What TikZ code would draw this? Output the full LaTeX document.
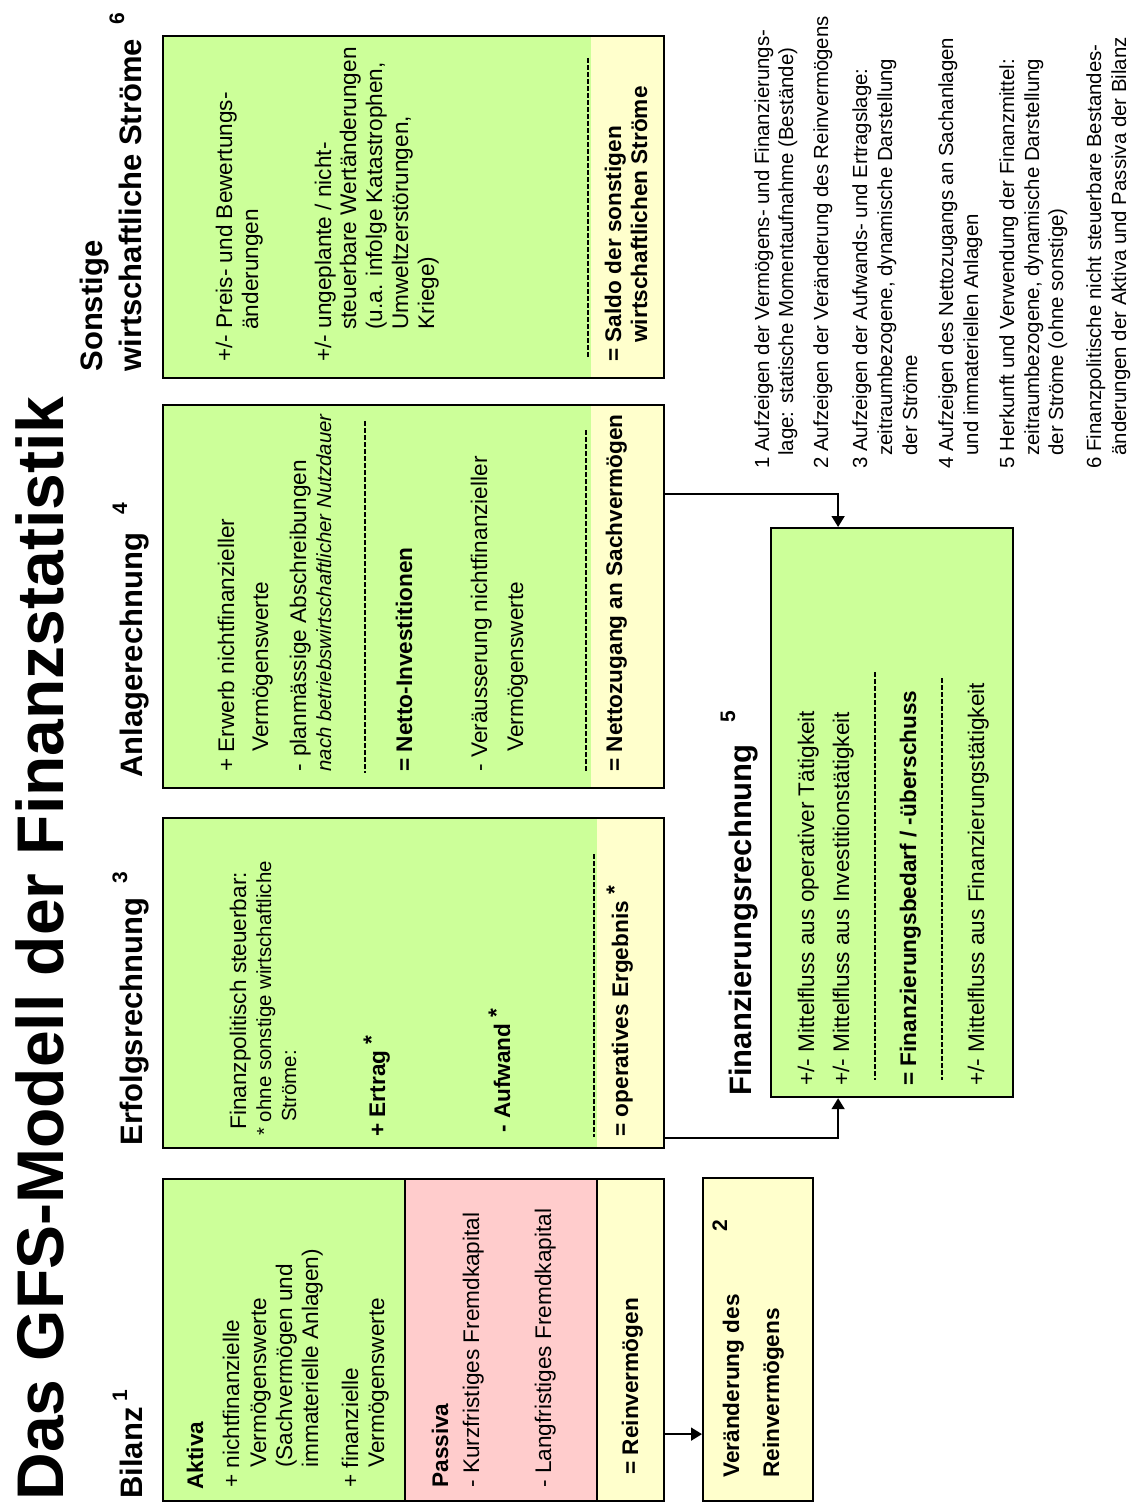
\documentclass[tikz,border=0pt]{standalone}
\usepackage{fontspec}
\setmainfont{Liberation Sans}
\usetikzlibrary{arrows.meta}
\definecolor{gfsgreen}{HTML}{CCFF99}
\definecolor{gfspink}{HTML}{FFCCCC}
\definecolor{gfsyellow}{HTML}{FFFFCC}
\begin{document}
\begin{tikzpicture}[x=0.5pt,y=-0.5pt,
  txt/.style={rotate=90, anchor=base west, inner sep=0pt, font=\fontsize{11.3}{13}\selectfont},
  txtb/.style={txt, font=\fontsize{11.3}{13}\selectfont\bfseries},
  txti/.style={txt, font=\fontsize{10.2}{12}\selectfont\itshape},
  smalltxt/.style={txt, font=\fontsize{10.2}{12}\selectfont},
  fn/.style={txt, font=\fontsize{10.2}{12}\selectfont},
  head/.style={txt, font=\fontsize{15.5}{18}\selectfont\bfseries},
  supnum/.style={txt, font=\fontsize{10.5}{12}\selectfont\bfseries},
  titlefont/.style={txt, font=\fontsize{33}{36}\selectfont\bfseries},
  frame/.style={draw=black, line width=1.1pt, rectangle, inner sep=0pt, anchor=north west},
  sepline/.style={line width=0.9pt, dash pattern=on 2.5pt off 1pt},
  conn/.style={line width=0.9pt, -{Triangle[length=5.5pt,width=6.5pt]}}
]
\useasboundingbox (0,0) rectangle (1141,1502);

% ---------- fills ----------
\fill[gfsgreen]  (162,1178) rectangle (405,1500);
\fill[gfspink]   (405,1178) rectangle (597,1500);
\fill[gfsyellow] (597,1178) rectangle (663,1500);
\fill[gfsyellow] (702,1177) rectangle (812,1500);
\fill[gfsgreen]  (162,817) rectangle (597,1147);
\fill[gfsyellow] (597,817) rectangle (663,1147);
\fill[gfsgreen]  (162,404) rectangle (591,787);
\fill[gfsyellow] (591,404) rectangle (663,787);
\fill[gfsgreen]  (162,35) rectangle (591,377);
\fill[gfsyellow] (591,35) rectangle (663,377);
\fill[gfsgreen]  (770,527) rectangle (1012,1096);

% ---------- frames ----------
\node[frame, minimum width=250.5pt, minimum height=161pt] (bil) at (162,1178) {};
\draw[line width=1.1pt] (405,1178) -- (405,1500) (597,1178) -- (597,1500);
\node[frame, minimum width=55pt, minimum height=161.5pt] (ver) at (702,1177) {};
\node[frame, minimum width=250.5pt, minimum height=165pt] (erf) at (162,817) {};
\node[frame, minimum width=250.5pt, minimum height=191.5pt] (anl) at (162,404) {};
\node[frame, minimum width=250.5pt, minimum height=171pt] (son) at (162,35) {};
\node[frame, minimum width=121pt, minimum height=284.5pt] (fin) at (770,527) {};

% ---------- separators ----------
\draw[sepline] (594,854) -- (594,1137);
\draw[sepline] (365,421) -- (365,773);
\draw[sepline] (586,430) -- (586,773);
\draw[sepline] (588,58) -- (588,357);
\draw[sepline] (875,672) -- (875,1080);
\draw[sepline] (942,678) -- (942,1080);

% ---------- connectors ----------
\draw[conn] ([yshift=-47pt]bil.east) coordinate (a1) -- (a1 -| ver.west);
\draw[conn] ([yshift=5.5pt]erf.south east) -| ([xshift=-27pt]fin.south);
\draw[conn] ([yshift=-45pt]anl.north east) -| ([xshift=-27pt]fin.north);

% ---------- title and headings ----------
\node[titlefont] (title) at (63,1501) {Das GFS-Modell der Finanzstatistik};
\node[head] (hBil) at (142,1499) {Bilanz};
\node[supnum] (sBil) at (127,1402) {1};
\node[head] (hErf) at (142,1146) {Erfolgsrechnung};
\node[supnum] (sErf) at (127,884) {3};
\node[head] (hAnl) at (142,778) {Anlagerechnung};
\node[supnum] (sAnl) at (127,515) {4};
\node[head] (hSon1) at (102,372) {Sonstige};
\node[head] (hSon2) at (141,372) {wirtschaftliche Ströme};
\node[supnum] (sSon) at (124,25) {6};
\node[head] (hFin) at (751,1096) {Finanzierungsrechnung};
\node[supnum] (sFin) at (735,723) {5};

% ---------- Bilanz ----------
\node[txtb] (b1) at (203,1490) {Aktiva};
\node[txt] (b2) at (239,1488) {+ nichtfinanzielle};
\node[txt] (b3) at (266,1468) {Vermögenswerte};
\node[txt] (b4) at (292,1468) {(Sachvermögen und};
\node[txt] (b5) at (318,1468) {immaterielle Anlagen)};
\node[txt] (b6) at (358,1488) {+ finanzielle};
\node[txt] (b7) at (384,1468) {Vermögenswerte};
\node[txtb] (p1) at (448,1488) {Passiva};
\node[txt] (p2) at (479,1488) {- Kurzfristiges Fremdkapital};
\node[txt] (p3) at (551,1488) {- Langfristiges Fremdkapital};
\node[txtb] (r1) at (638,1475) {= Reinvermögen};

% ---------- Veraenderung ----------
\node[txtb] (v1) at (739,1478) {Veränderung des};
\node[txtb] (v2) at (779,1478) {Reinvermögens};
\node[supnum] (v3) at (727,1232) {2};

% ---------- Erfolgsrechnung ----------
\node[txt] (e1) at (246,1130) {Finanzpolitisch steuerbar:};
\node[smalltxt] (e2) at (271,1136) {* ohne sonstige wirtschaftliche};
\node[smalltxt] (e3) at (296,1122) {Ströme:};
\node[txtb] (e4) at (385,1137) {+ Ertrag \raisebox{3pt}{*}};
\node[txtb] (e5) at (510,1133) {- Aufwand \raisebox{3pt}{*}};
\node[txtb] (e6) at (628,1137) {= operatives Ergebnis \raisebox{3pt}{*}};

% ---------- Anlagerechnung ----------
\node[txt] (n1) at (234,772) {+ Erwerb nichtfinanzieller};
\node[txt] (n2) at (268,752) {Vermögenswerte};
\node[txt] (n3) at (306,772) {-};
\node[txt] (n3b) at (306,757) {planmässige Abschreibungen};
\node[txti] (n4) at (331,772) {nach betriebswirtschaftlicher Nutzdauer};
\node[txtb] (n5) at (412,772) {= Netto-Investitionen};
\node[txt] (n6) at (487,772) {- Veräusserung nichtfinanzieller};
\node[txt] (n7) at (523,752) {Vermögenswerte};
\node[txtb] (n8) at (622,772) {= Nettozugang an Sachvermögen};

% ---------- Sonstige ----------
\node[txt] (o1) at (232,362) {+/- Preis- und Bewertungs-};
\node[txt] (o2) at (258,330) {änderungen};
\node[txt] (o3) at (331,362) {+/- ungeplante / nicht-};
\node[txt] (o4) at (356,330) {steuerbare Wertänderungen};
\node[txt] (o5) at (382,330) {(u.a. infolge Katastrophen,};
\node[txt] (o6) at (408,330) {Umweltzerstörungen,};
\node[txt] (o7) at (434,330) {Kriege)};
\node[txtb] (o8) at (621,362) {= Saldo der sonstigen};
\node[txtb] (o9) at (647,343) {wirtschaftlichen Ströme};

% ---------- Finanzierungsrechnung ----------
\node[txt] (f1) at (814,1086) {+/- Mittelfluss aus operativer Tätigkeit};
\node[txt] (f2) at (849,1086) {+/- Mittelfluss aus Investitionstätigkeit};
\node[txtb] (f3) at (916,1086) {= Finanzierungsbedarf / -überschuss};
\node[txt] (f4) at (984,1086) {+/- Mittelfluss aus Finanzierungstätigkeit};

% ---------- footnotes ----------
\node[fn] (g1) at (769,469) {1 Aufzeigen der Vermögens- und Finanzierungs-};
\node[fn] (g2) at (793,456) {lage: statische Momentaufnahme (Bestände)};
\node[fn] (g3) at (828,469) {2 Aufzeigen der Veränderung des Reinvermögens};
\node[fn] (g4) at (867,469) {3 Aufzeigen der Aufwands- und Ertragslage:};
\node[fn] (g5) at (892,456) {zeitraumbezogene, dynamische Darstellung};
\node[fn] (g6) at (917,456) {der Ströme};
\node[fn] (g7) at (953,469) {4 Aufzeigen des Nettozugangs an Sachanlagen};
\node[fn] (g8) at (978,456) {und immateriellen Anlagen};
\node[fn] (g9) at (1014,469) {5 Herkunft und Verwendung der Finanzmittel:};
\node[fn] (g10) at (1039,456) {zeitraumbezogene, dynamische Darstellung};
\node[fn] (g11) at (1063,456) {der Ströme (ohne sonstige)};
\node[fn] (g12) at (1101,469) {6 Finanzpolitische nicht steuerbare Bestandes-};
\node[fn] (g13) at (1126,456) {änderungen der Aktiva und Passiva der Bilanz};
\end{tikzpicture}
\end{document}
